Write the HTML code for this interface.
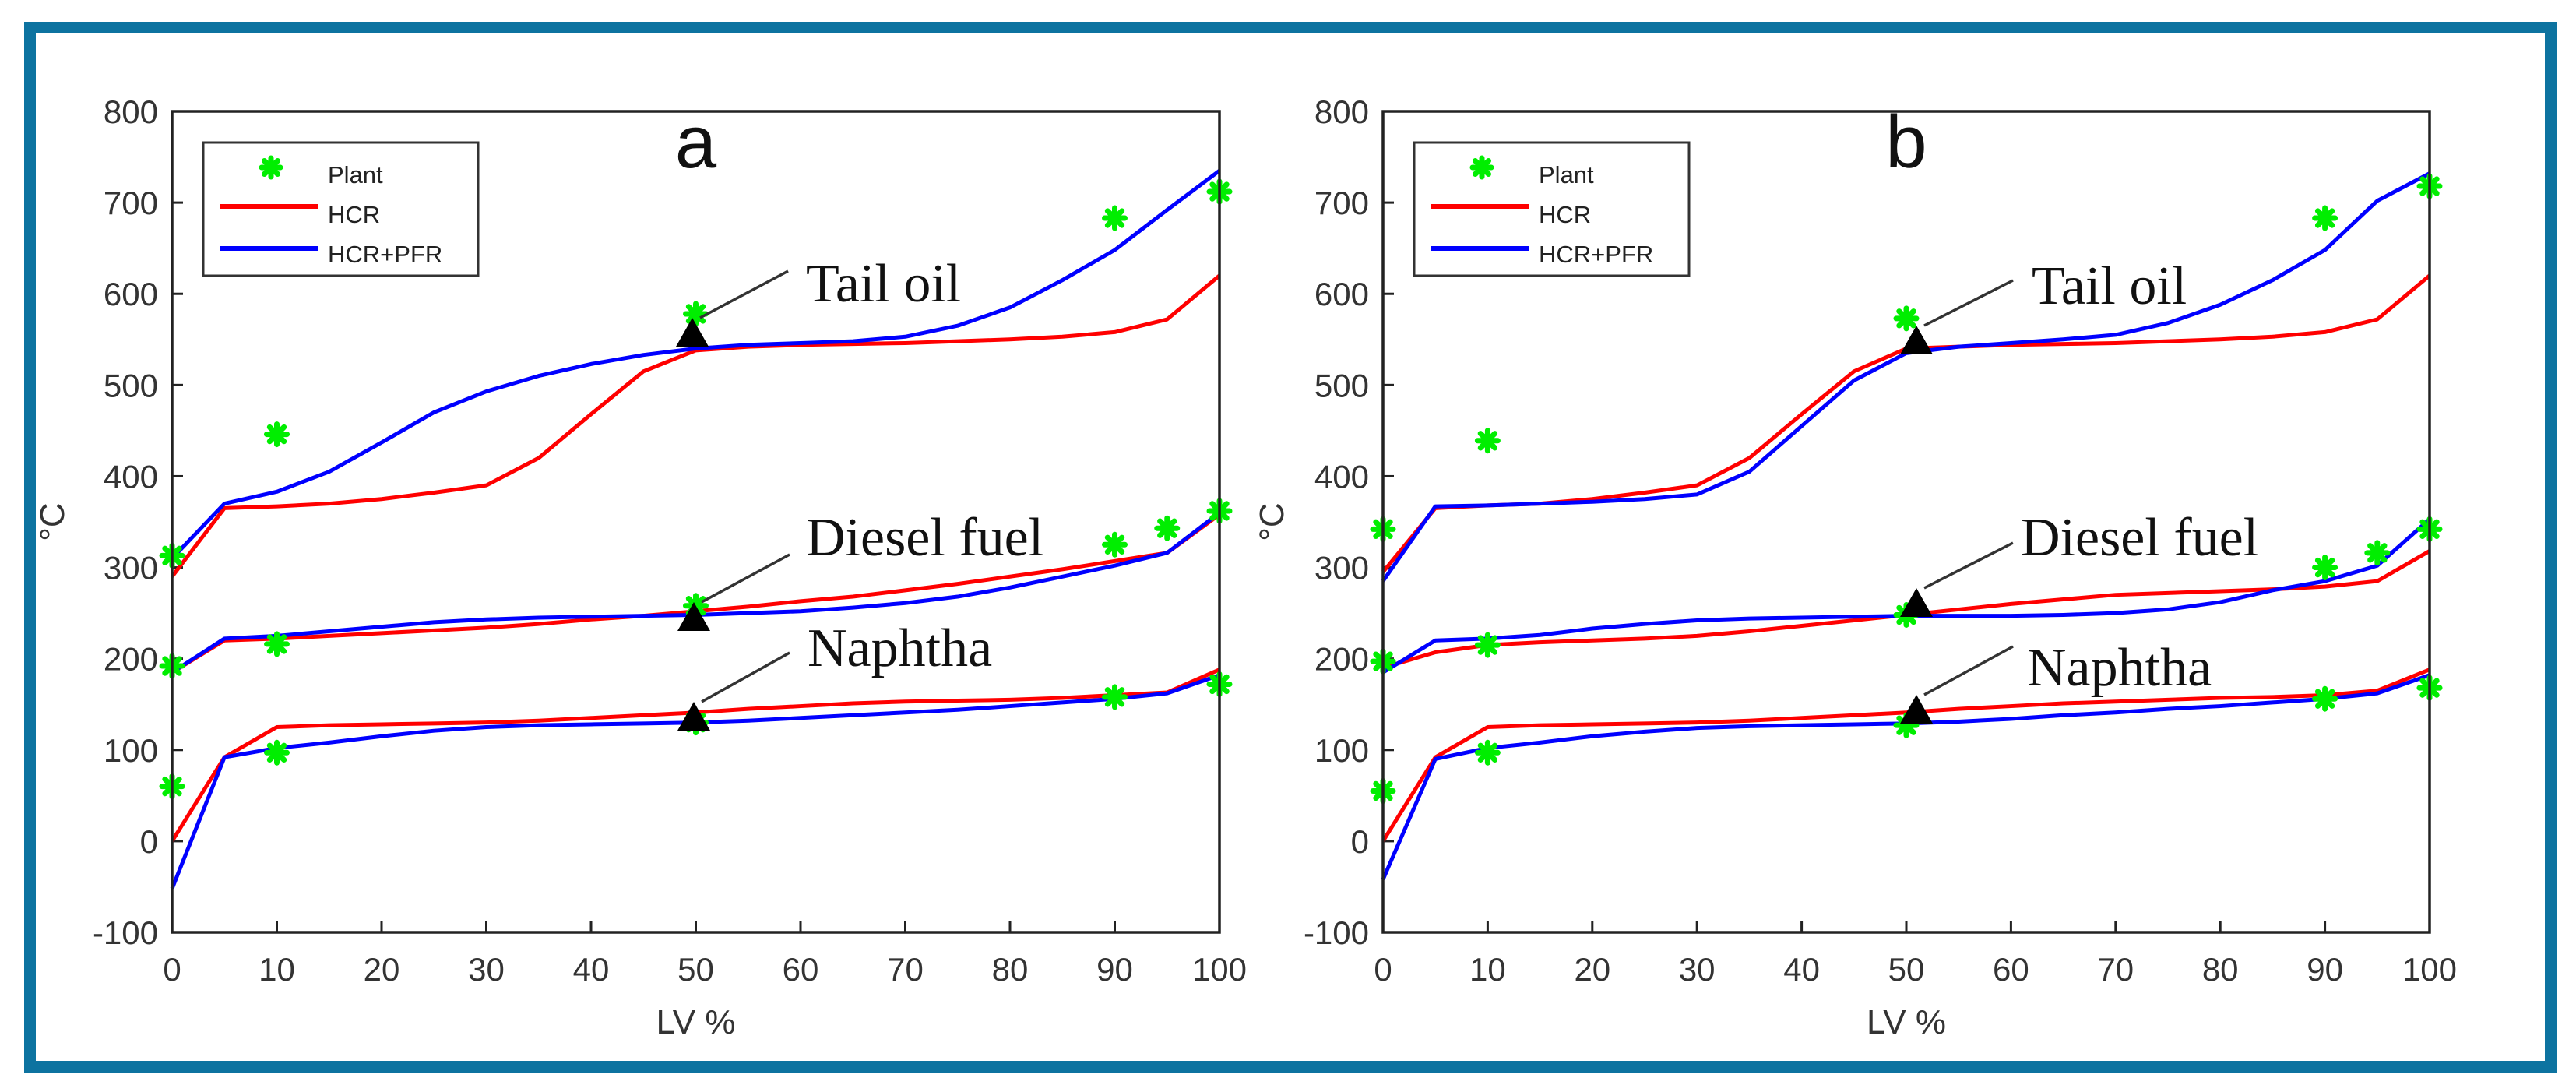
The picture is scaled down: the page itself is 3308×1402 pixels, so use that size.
<!DOCTYPE html>
<html><head><meta charset="utf-8"><style>
html,body{margin:0;padding:0;background:#fff;}
svg{display:block;}
</style></head><body>
<svg id="fig" width="3308" height="1402" xmlns="http://www.w3.org/2000/svg">
<rect x="0" y="0" width="3308" height="1402" fill="#fff"/>
<rect x="38.5" y="35.5" width="3237" height="1334" fill="none" stroke="#0d73a0" stroke-width="15"/>
</svg>
<script>
const xs = [0,5,10,15,20,25,30,35,40,45,50,55,60,65,70,75,80,85,90,95,100];
const xTicks = [0,10,20,30,40,50,60,70,80,90,100];
const yTicks = [-100,0,100,200,300,400,500,600,700,800];
const plantX = [0,10,50,90,95,100];

const aTailHCR = [290,365,367,370,375,382,390,420,468,515,538,542,544,545,546,548,550,553,558,572,620];
const aTailPFR = [310,370,383,405,437,470,493,510,523,533,540,544,546,548,553,565,585,615,648,692,735];
const aDieselHCR = [185,220,222,225,228,231,234,238,243,247,252,257,263,268,275,282,290,298,307,316,358];
const aDieselPFR = [185,222,225,230,235,240,243,245,246,247,248,250,252,256,261,268,278,290,302,316,360];
const aNaphHCR = [0,92,125,127,128,129,130,132,135,138,141,145,148,151,153,154,155,157,160,163,188];
const aNaphPFR = [-52,92,102,108,115,121,125,127,128,129,130,132,135,138,141,144,148,152,156,162,182];
const aPlantTail = [313,446,578,683,null,712];
const aPlantDiesel = [192,216,258,325,343,362];
const aPlantNaph = [60,97,130,158,null,172];

const bTailHCR = [295,365,368,370,375,382,390,420,468,515,540,542,544,545,546,548,550,553,558,572,620];
const bTailPFR = [285,367,368,370,372,375,380,405,455,505,535,542,546,550,555,568,588,615,648,702,732];
const bDieselHCR = [190,207,215,218,220,222,225,230,236,242,248,254,260,265,270,272,274,276,279,285,318];
const bDieselPFR = [185,220,222,226,233,238,242,244,245,246,247,247,247,248,250,254,262,275,285,302,353];
const bNaphHCR = [0,92,125,127,128,129,130,132,135,138,141,145,148,151,153,155,157,158,160,165,188];
const bNaphPFR = [-42,90,102,108,115,120,124,126,127,128,129,131,134,138,141,145,148,152,156,162,182];
const bPlantTail = [342,439,573,683,null,718];
const bPlantDiesel = [197,215,248,300,316,342];
const bPlantNaph = [55,97,127,156,null,168];

const svg = document.getElementById('fig');
const NS = 'http://www.w3.org/2000/svg';
function mk(tag, attrs, parent){const e=document.createElementNS(NS,tag);for(const k in attrs)e.setAttribute(k,attrs[k]);(parent||svg).appendChild(e);return e;}

function star(g,cx,cy,r){
  const s=mk('g',{},g);
  for(let i=0;i<4;i++){const a=i*Math.PI/4;
    mk('line',{x1:cx-r*Math.cos(a),y1:cy-r*Math.sin(a),x2:cx+r*Math.cos(a),y2:cy+r*Math.sin(a),stroke:'#00ee00','stroke-width':7,'stroke-linecap':'round'},s);}
  mk('circle',{cx:cx,cy:cy,r:r*0.6,fill:'#00ee00'},s);
  return s;
}

function panel(id, L, R, T, B, label, series, plants, ann, yLabelX){
  const g=mk('g',{});
  
  
  const X=v=>L+(v-0)/100*(R-L);
  const Y=v=>B-(v+100)/900*(B-T);
  xTicks.forEach(t=>{
    mk('line',{x1:X(t),y1:B,x2:X(t),y2:B-14,stroke:'#222','stroke-width':3},g);
    const tx=mk('text',{x:X(t),y:B+62,'font-family':'Liberation Sans, sans-serif','font-size':42,'text-anchor':'middle',fill:'#333'},g);
    tx.textContent=t;
    
    
  });
  yTicks.forEach(t=>{
    mk('line',{x1:L,y1:Y(t),x2:L+14,y2:Y(t),stroke:'#222','stroke-width':3},g);
    const tx=mk('text',{x:L-18,y:Y(t)+15,'font-family':'Liberation Sans, sans-serif','font-size':42,'text-anchor':'end',fill:'#333'},g);
    tx.textContent=t;
    
    
  });
  const xl=mk('text',{x:(L+R)/2,y:B+130,'font-family':'Liberation Sans, sans-serif','font-size':44,'text-anchor':'middle',fill:'#333'},g);
  xl.textContent='LV %';
  
  
  const yl=mk('text',{x:yLabelX,y:(T+B)/2,'font-family':'Liberation Sans, sans-serif','font-size':44,'text-anchor':'middle',fill:'#333',transform:'rotate(-90 '+yLabelX+' '+((T+B)/2)+')'},g);
  yl.textContent='°C';
  
  
  series.forEach(s=>{
    const p=mk('polyline',{points:xs.map((x,i)=>X(x)+','+Y(s.v[i])).join(' '),fill:'none',stroke:s.c,'stroke-width':5,'stroke-linejoin':'round'},g);
    
    
  });
  plants.forEach(arr=>{
    arr.forEach((v,i)=>{ if(v===null)return;
      const m=star(g,X(plantX[i]),Y(v),13);
      
      
    });
  });
  ann.forEach(a=>{
    mk('line',{x1:a.tx+10,y1:a.ty-24,x2:a.lx,y2:a.ly,stroke:'#333','stroke-width':3.5},g);
    mk('polygon',{points:(a.tx-21)+','+(a.ty+13)+' '+(a.tx+21)+','+(a.ty+13)+' '+a.tx+','+(a.ty-24),fill:'#000'},g);
    const t=mk('text',{x:a.x,y:a.y,'font-family':'Liberation Serif, serif','font-size':70,fill:'#111'},g);
    t.textContent=a.t;
    
    
  });
  const pl=mk('text',{x:(L+R)/2,y:T+72,'font-family':'Liberation Sans, sans-serif','font-size':96,'text-anchor':'middle',fill:'#111'},g);
  pl.textContent=label;
  
  
  const lg=mk('g',{},g);
  
  
  mk('rect',{x:L+40,y:T+40,width:353,height:171,fill:'#fff',stroke:'#333','stroke-width':3},lg);
  star(lg,L+127,T+72,12);
  mk('line',{x1:L+62,y1:T+122,x2:L+188,y2:T+122,stroke:'#ff0000','stroke-width':6},lg);
  mk('line',{x1:L+62,y1:T+176,x2:L+188,y2:T+176,stroke:'#0000ff','stroke-width':6},lg);
  [['Plant',T+92],['HCR',T+143],['HCR+PFR',T+194]].forEach(r=>{
    const t=mk('text',{x:L+200,y:r[1],'font-family':'Liberation Sans, sans-serif','font-size':31,fill:'#222'},lg);
    t.textContent=r[0];
    
    
  });
  mk('rect',{x:L,y:T,width:R-L,height:B-T,fill:'none',stroke:'#222','stroke-width':3.5},g);
}

panel('a',221,1566,143,1197,'a',
  [{v:aTailHCR,c:'#ff0000',n:'tail-oil-hcr'},{v:aTailPFR,c:'#0000ff',n:'tail-oil-hcr-pfr'},
   {v:aDieselHCR,c:'#ff0000',n:'diesel-hcr'},{v:aDieselPFR,c:'#0000ff',n:'diesel-hcr-pfr'},
   {v:aNaphHCR,c:'#ff0000',n:'naphtha-hcr'},{v:aNaphPFR,c:'#0000ff',n:'naphtha-hcr-pfr'}],
  [aPlantTail,aPlantDiesel,aPlantNaph],
  [{t:'Tail oil',tx:889,ty:432,lx:1012,ly:348,x:1035,y:387},
   {t:'Diesel fuel',tx:891,ty:797,lx:1014,ly:712,x:1035,y:713},
   {t:'Naphtha',tx:891,ty:925,lx:1014,ly:838,x:1037,y:855}], 82);

panel('b',1776,3120,143,1197,'b',
  [{v:bTailHCR,c:'#ff0000',n:'tail-oil-hcr'},{v:bTailPFR,c:'#0000ff',n:'tail-oil-hcr-pfr'},
   {v:bDieselHCR,c:'#ff0000',n:'diesel-hcr'},{v:bDieselPFR,c:'#0000ff',n:'diesel-hcr-pfr'},
   {v:bNaphHCR,c:'#ff0000',n:'naphtha-hcr'},{v:bNaphPFR,c:'#0000ff',n:'naphtha-hcr-pfr'}],
  [bPlantTail,bPlantDiesel,bPlantNaph],
  [{t:'Tail oil',tx:2461,ty:442,lx:2585,ly:360,x:2609,y:390},
   {t:'Diesel fuel',tx:2461,ty:779,lx:2585,ly:697,x:2595,y:713},
   {t:'Naphtha',tx:2461,ty:916,lx:2585,ly:830,x:2603,y:880}], 1648);
</script>
</body></html>
